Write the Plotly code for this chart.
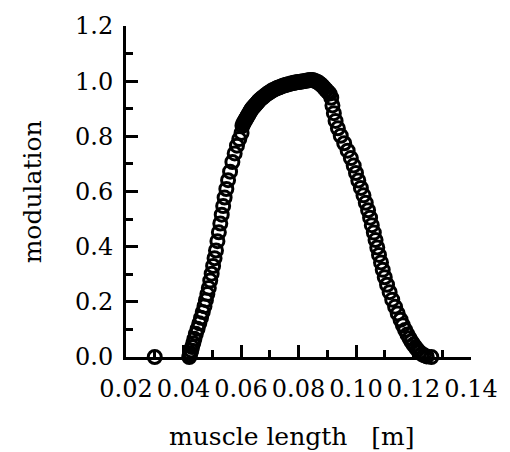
import plotly.graph_objects as go

# rising branch (open circles), dense plateau, falling branch, bottom cluster
length_m = [
    0.0300,
    0.0420, 0.0422, 0.0424, 0.0427, 0.0430, 0.0434, 0.0438, 0.0443, 0.0449, 0.0455,
    0.0461, 0.0467, 0.0473, 0.0478, 0.0483, 0.0488, 0.0493, 0.0498, 0.0503, 0.0508,
    0.0513, 0.0518, 0.0523, 0.0528, 0.0533, 0.0538, 0.0543, 0.0549, 0.0555, 0.0562,
    0.0570, 0.0578, 0.0586, 0.0594, 0.0602,
    0.0605, 0.0608, 0.0611, 0.0614, 0.0617, 0.0620, 0.0623, 0.0626, 0.0629, 0.0632,
    0.0635, 0.0638, 0.0641, 0.0644, 0.0647, 0.0650, 0.0653, 0.0656, 0.0659, 0.0662,
    0.0668, 0.0674, 0.0680, 0.0686, 0.0692, 0.0698, 0.0704, 0.0710, 0.0716, 0.0722,
    0.0728, 0.0734, 0.0740, 0.0746, 0.0752, 0.0758, 0.0764, 0.0770, 0.0776, 0.0782,
    0.0788, 0.0794, 0.0800, 0.0806, 0.0812, 0.0818, 0.0824, 0.0830, 0.0836, 0.0842,
    0.0848, 0.0854, 0.0860, 0.0866, 0.0872, 0.0878, 0.0884, 0.0890, 0.0896, 0.0902,
    0.0908,
    0.0914, 0.0918, 0.0923, 0.0929, 0.0937, 0.0947, 0.0959, 0.0971, 0.0982, 0.0992,
    0.1000, 0.1008, 0.1017, 0.1026, 0.1034, 0.1042, 0.1049, 0.1055, 0.1062, 0.1068,
    0.1074, 0.1080, 0.1087, 0.1093, 0.1100, 0.1108, 0.1117, 0.1126, 0.1136, 0.1145,
    0.1155,
    0.1163, 0.1171, 0.1179, 0.1186, 0.1193, 0.1200, 0.1207, 0.1214, 0.1221, 0.1229,
    0.1237, 0.1246, 0.1262,
]
modulation = [
    0.000,
    0.000, 0.006, 0.014, 0.024, 0.036, 0.050, 0.066, 0.084, 0.102, 0.122,
    0.142, 0.163, 0.184, 0.206, 0.228, 0.250, 0.277, 0.302, 0.330, 0.358,
    0.386, 0.420, 0.452, 0.484, 0.516, 0.547, 0.578, 0.609, 0.641, 0.672,
    0.707, 0.738, 0.766, 0.790, 0.812,
    0.838, 0.846, 0.852, 0.857, 0.863, 0.868, 0.874, 0.879, 0.885, 0.890,
    0.895, 0.900, 0.904, 0.907, 0.911, 0.914, 0.918, 0.921, 0.925, 0.929,
    0.935, 0.940, 0.945, 0.950, 0.955, 0.959, 0.963, 0.967, 0.970, 0.973,
    0.976, 0.978, 0.981, 0.983, 0.985, 0.987, 0.989, 0.990, 0.992, 0.993,
    0.995, 0.996, 0.997, 0.998, 0.999, 1.000, 1.001, 1.002, 1.003, 1.004,
    1.004, 1.002, 1.000, 0.997, 0.993, 0.988, 0.982, 0.975, 0.968, 0.961,
    0.955,
    0.940, 0.912, 0.884, 0.856, 0.829, 0.802, 0.775, 0.748, 0.721, 0.694,
    0.667, 0.640, 0.613, 0.586, 0.559, 0.532, 0.505, 0.478, 0.451, 0.424,
    0.397, 0.370, 0.343, 0.316, 0.289, 0.262, 0.235, 0.208, 0.182, 0.158,
    0.135,
    0.115, 0.098, 0.082, 0.068, 0.056, 0.045, 0.035, 0.026, 0.018, 0.011,
    0.006, 0.002, 0.000,
]

x_ticks = [0.02, 0.04, 0.06, 0.08, 0.10, 0.12, 0.14]
x_tick_labels = ["0.02", "0.04", "0.06", "0.08", "0.10", "0.12", "0.14"]
y_ticks = [0.0, 0.2, 0.4, 0.6, 0.8, 1.0, 1.2]
y_tick_labels = ["0.0", "0.2", "0.4", "0.6", "0.8", "1.0", "1.2"]

FONT = "DejaVu Serif"

fig = go.Figure(
    go.Scatter(
        x=length_m,
        y=modulation,
        mode="markers",
        cliponaxis=False,
        marker=dict(symbol="circle-open", size=13, color="black",
                    line=dict(width=3, color="black")),
        showlegend=False,
    )
)

axis_common = dict(
    showline=True, linewidth=3, linecolor="black", mirror=False,
    showgrid=False, zeroline=False,
    ticks="inside", ticklen=12, tickwidth=3, tickcolor="black",
    tickfont=dict(family=FONT, size=24, color="black"),
)

fig.update_xaxes(
    range=[0.02, 0.14], tickmode="array", tickvals=x_ticks, ticktext=x_tick_labels,
    minor=dict(dtick=0.01, tick0=0.0, ticks="inside", ticklen=7, tickwidth=3,
               tickcolor="black"),
    ticklabelstandoff=8,
    **axis_common,
)
fig.update_yaxes(
    range=[0, 1.2], tickmode="array", tickvals=y_ticks, ticktext=y_tick_labels,
    minor=dict(dtick=0.1, tick0=0.0, ticks="inside", ticklen=7, tickwidth=3,
               tickcolor="black"),
    ticklabelstandoff=5,
    **axis_common,
)

fig.update_layout(
    width=510, height=452,
    margin=dict(l=126, r=29, t=18, b=95, pad=0),
    paper_bgcolor="white", plot_bgcolor="white",
    font=dict(family=FONT, color="black"),
    annotations=[
        dict(text="muscle length\u00a0\u00a0\u00a0[m]", xref="paper", yref="paper",
             x=0.48, y=-0.239, xanchor="center", yanchor="middle", showarrow=False,
             font=dict(family=FONT, size=25, color="black")),
        dict(text="modulation", xref="paper", yref="paper", textangle=-90,
             x=-0.27, y=0.5, xanchor="center", yanchor="middle", showarrow=False,
             font=dict(family=FONT, size=25, color="black")),
    ],
)

fig.write_html("out.html")
